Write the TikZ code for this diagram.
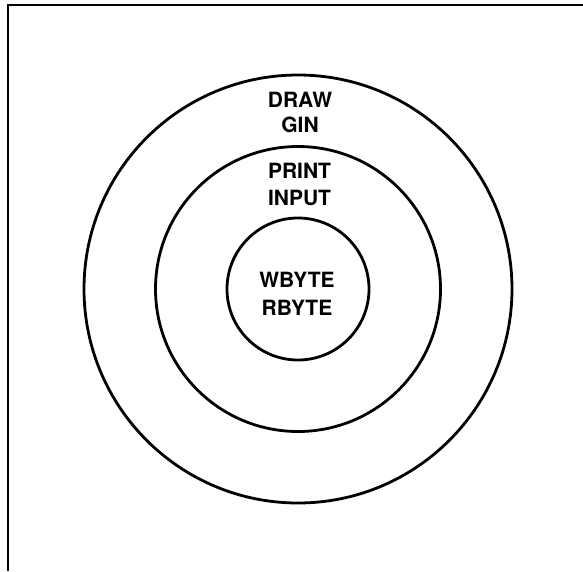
\documentclass[tikz,border=0pt]{standalone}
\usepackage{fontspec}
\setmainfont{TeX Gyre Heros}
\tikzset{
  ring/.style={circle, draw=black, line width=2.8pt, inner sep=0pt},
  label/.style={anchor=base, inner sep=0pt, font=\fontsize{21}{25}\selectfont\bfseries},
  frame/.style={line width=2.6pt, line cap=butt}
}
\begin{document}
\begin{tikzpicture}[x=1pt,y=-1pt]
\useasboundingbox (0,0) rectangle (583,571);
% frame (top and left edges)
\coordinate (ftr) at (583,5);
\coordinate (ftl) at (8,5);
\coordinate (fbl) at (8,571);
\draw[frame] (ftr) -- (ftl) -- (fbl);
% rings
\node[ring, minimum size=428pt] (outer) at (298,289) {};
\node[ring, minimum size=285pt] (middle) at (298,289) {};
\node[ring, minimum size=142pt] (inner) at (298,289) {};
% labels
\node[label] (draw) at (300,107) {DRAW};
\node[label] (gin) at (300,132.5) {GIN};
\node[label] (print) at (299.5,178) {PRINT};
\node[label] (input) at (299.5,205) {INPUT};
\node[label] (wbyte) at (297,287) {WBYTE};
\node[label] (rbyte) at (297,315) {RBYTE};
\end{tikzpicture}
\end{document}
